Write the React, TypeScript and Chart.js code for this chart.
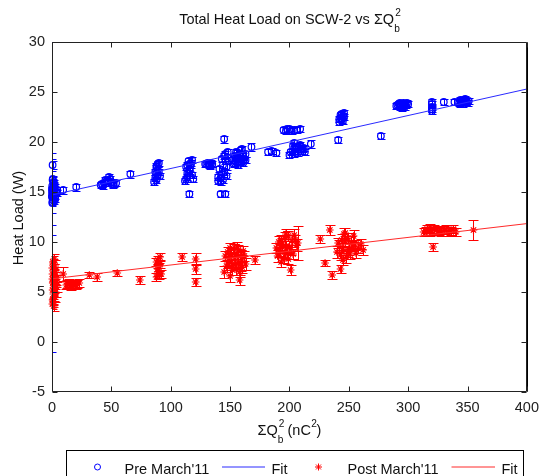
import { useEffect, useRef } from 'react';
import { Chart, registerables } from 'chart.js';

Chart.register(...registerables);

// ---------------- data ----------------
const preX = [
  0.3, 0.6, 1.0, 0.4, 1.5, 0.8, 2.0, 1.2, 0.5, 2.6, 3.2, 1.8, 2.3, 3.8, 4.5, 1.4, 0.2, 2.8, 0.5,
  0.4, 1.1, 0.9, 0.3, 1.7, 0.7, 2.1, 1.3, 0, 0, 0, 0,
  9.4, 20.4, 41, 44, 46, 48, 50, 52, 54, 43, 42, 45, 47, 49, 51, 66,
  86, 87, 88, 89, 88, 90, 91, 87, 88, 89, 90, 88, 89,
  112, 114, 115, 116, 117, 115, 118, 113, 119, 113, 114, 116, 117, 118, 114, 115.7,
  130, 132, 134, 133, 129, 131, 133, 135,
  140, 142, 143, 141, 144, 146, 145, 148, 147, 140, 142, 144, 145, 147, 143, 146, 148, 145, 142, 146,
  153, 155, 157, 158, 160, 156, 162, 159, 154, 161, 163, 152, 154, 156, 157, 159, 161, 163, 158, 155, 160, 168,
  182, 185, 189, 195, 198, 202, 206, 209, 197, 200, 204,
  200, 203, 205, 207, 209, 211, 213, 204, 201, 204, 206, 208, 210, 212, 203, 218,
  241, 242, 243, 244, 246, 245, 242, 243, 245, 244, 246, 277,
  290, 292, 294, 296, 298, 300, 293, 291, 293, 295, 297, 299, 295, 297,
  320, 320, 320, 320, 320, 330, 339,
  343, 345, 347, 349, 351, 342, 344, 346, 348, 350, 346, 344,
];
const preY = [
  13.9, 14.2, 14.5, 14.8, 15.1, 15.4, 15.7, 16.0, 16.2, 14.6, 15.0, 14.1, 15.5, 14.9, 15.2, 14.7, 15.6, 14.3, 17.7,
  14.0, 14.4, 15.0, 15.3, 15.9, 16.3, 14.9, 15.6, 15.0, 15.3, 14.5, 14.6,
  15.2, 15.5, 15.7, 15.9, 16.1, 16.5, 16.0, 15.8, 15.9, 15.6, 15.8, 16.2, 15.9, 16.3, 15.7, 16.8,
  16.0, 16.4, 16.8, 17.2, 17.6, 17.9, 16.6, 17.0, 16.2, 16.6, 17.0, 17.4, 17.8,
  16.1, 16.5, 16.9, 17.3, 17.7, 18.1, 16.7, 17.5, 16.3, 16.3, 16.9, 17.1, 17.9, 18.2, 17.7, 14.8,
  17.8, 17.7, 17.9, 17.6, 17.8, 17.9, 17.7, 17.8,
  16.1, 16.4, 16.8, 17.3, 17.7, 18.1, 18.6, 19.0, 16.6, 16.5, 16.0, 16.2, 17.0, 17.5, 18.3, 18.8, 18.4, 20.3, 14.8, 14.8,
  17.8, 18.1, 18.4, 18.0, 18.7, 18.9, 18.3, 19.2, 18.6, 17.9, 18.8, 18.2, 17.9, 18.5, 17.7, 18.1, 18.6, 18.2, 18.8, 19.0, 19.3, 19.5,
  19.0, 19.1, 18.9, 21.2, 21.3, 21.1, 21.2, 21.3, 21.1, 21.3, 21.2,
  18.7, 19.1, 19.5, 18.9, 19.7, 19.3, 19.0, 19.9, 19.0, 18.8, 19.3, 19.6, 19.1, 19.4, 19.6, 19.8,
  20.2, 22.0, 22.4, 22.8, 22.5, 22.1, 22.3, 22.7, 22.6, 22.2, 22.9, 20.6,
  23.6, 23.8, 23.7, 23.9, 23.7, 23.8, 23.5, 23.7, 23.9, 23.6, 23.8, 23.9, 23.4, 23.5,
  23.1, 23.5, 24.0, 23.8, 23.3, 24.0, 24.0,
  23.9, 24.1, 24.2, 24.0, 24.1, 24.0, 24.2, 24.0, 24.3, 23.9, 23.8, 23.8,
];
const preErr = [
  0.3, 0.3, 0.3, 0.3, 0.3, 0.3, 0.3, 0.3, 0.3, 0.3, 0.3, 0.3, 0.3, 0.3, 0.3, 0.3, 0.3, 0.3, 0.4,
  0.3, 0.3, 0.3, 0.3, 0.3, 0.3, 0.3, 0.3, 2.1, 3.6, 3.8, 15.6,
  0.35, 0.35, 0.3, 0.3, 0.3, 0.3, 0.3, 0.3, 0.3, 0.3, 0.3, 0.3, 0.3, 0.3, 0.3, 0.35,
  0.3, 0.3, 0.3, 0.3, 0.3, 0.3, 0.3, 0.3, 0.3, 0.3, 0.3, 0.3, 0.3,
  0.3, 0.3, 0.3, 0.3, 0.3, 0.3, 0.3, 0.3, 0.3, 0.3, 0.3, 0.3, 0.3, 0.3, 0.3, 0.35,
  0.3, 0.3, 0.3, 0.3, 0.3, 0.3, 0.3, 0.3,
  0.3, 0.3, 0.3, 0.3, 0.3, 0.3, 0.3, 0.3, 0.3, 0.3, 0.3, 0.3, 0.3, 0.3, 0.3, 0.3, 0.3, 0.35, 0.35, 0.35,
  0.3, 0.3, 0.3, 0.3, 0.3, 0.3, 0.3, 0.3, 0.3, 0.3, 0.3, 0.3, 0.3, 0.3, 0.3, 0.3, 0.3, 0.3, 0.3, 0.3, 0.3, 0.35,
  0.3, 0.3, 0.3, 0.3, 0.3, 0.3, 0.3, 0.3, 0.3, 0.3, 0.3,
  0.3, 0.3, 0.3, 0.3, 0.3, 0.3, 0.3, 0.3, 0.3, 0.3, 0.3, 0.3, 0.3, 0.3, 0.3, 0.35,
  0.3, 0.3, 0.3, 0.3, 0.3, 0.3, 0.3, 0.3, 0.3, 0.3, 0.3, 0.3,
  0.3, 0.3, 0.3, 0.3, 0.3, 0.3, 0.3, 0.3, 0.3, 0.3, 0.3, 0.3, 0.3, 0.3,
  0.3, 0.3, 0.3, 0.3, 0.3, 0.3, 0.3,
  0.3, 0.3, 0.3, 0.3, 0.3, 0.3, 0.3, 0.3, 0.3, 0.3, 0.3, 0.3,
];

const postX = [
  0.3, 0.8, 1.2, 0.5, 1.8, 0.9, 2.2, 0.4, 1.5, 2.6, 0.7, 1.9, 3.0, 3.4, 2.9, 1.1, 0.2, 3.8, 2.4, 1.6,
  0.5, 1.3, 0.6, 2.0, 1.0, 0.3, 2.7, 1.4,
  9.4, 12, 14, 16, 18, 20, 23, 13, 17, 21, 31.5, 38, 55, 74,
  88, 89, 90, 88, 91, 92, 89, 89, 90, 91, 109.6, 121, 121, 121,
  145, 147, 149, 151, 153, 155, 157, 159, 161, 163, 150, 156, 158, 148, 154, 160,
  146, 148, 150, 152, 154, 156, 158, 160, 162, 151, 157, 159, 171,
  190, 192, 194, 196, 198, 200, 202, 204, 196, 206, 191, 201, 207, 199,
  189, 191, 193, 195, 197, 199, 201, 203, 205, 193, 197,
  226, 234, 230, 236, 243,
  240, 242, 244, 246, 248, 250, 252, 254, 245, 249, 256, 258, 260, 262,
  241, 243, 245, 247, 249, 251, 253, 247, 255,
  313, 316, 320, 324, 328, 332, 336, 340, 315, 318, 322, 326, 330, 334, 338, 318, 321, 355,
];
const postY = [
  3.8, 4.3, 4.8, 5.2, 5.6, 6.0, 6.4, 6.8, 7.2, 7.6, 8.0, 8.3, 5.0, 6.2, 7.0, 4.0, 7.4, 5.5, 4.5, 6.6,
  4.2, 5.4, 5.9, 6.8, 7.8, 6.3, 5.8, 3.6,
  6.8, 5.7, 5.9, 5.6, 5.8, 5.7, 5.9, 5.8, 5.7, 5.8, 6.7, 6.5, 6.9, 6.2,
  6.5, 7.0, 7.5, 8.0, 8.5, 6.8, 7.3, 8.2, 6.7, 7.8, 8.5, 8.3, 7.3, 6.0,
  7.0, 7.6, 8.2, 8.8, 9.3, 7.3, 8.0, 8.6, 9.1, 7.8, 6.6, 9.5, 6.2, 8.0, 8.4, 7.5,
  8.6, 9.0, 9.4, 7.2, 7.8, 8.8, 7.0, 8.2, 8.6, 8.0, 9.2, 7.6, 8.2,
  8.6, 9.2, 9.8, 10.4, 8.9, 9.5, 10.1, 10.7, 9.0, 9.7, 10.0, 7.2, 9.9, 8.3,
  9.4, 9.0, 10.2, 8.4, 9.6, 10.6, 9.2, 8.8, 10.2, 8.0, 10.8,
  10.3, 11.2, 7.9, 6.7, 7.3,
  9.0, 9.6, 10.2, 10.8, 8.5, 9.3, 10.0, 10.6, 8.2, 10.4, 8.9, 9.4, 9.8, 9.2,
  9.9, 8.7, 9.4, 10.1, 9.0, 8.8, 9.6, 10.9, 9.7,
  11.0, 11.3, 11.1, 11.2, 11.0, 11.3, 11.1, 11.0, 11.1, 11.0, 11.3, 11.1, 11.2, 11.0, 11.3, 11.4, 9.5, 11.2,
];
const postErr = [
  0.5, 0.5, 0.5, 0.6, 0.6, 0.6, 0.6, 0.6, 0.6, 0.6, 0.6, 0.5, 0.5, 0.5, 0.5, 0.5, 0.6, 0.5, 0.5, 0.6,
  0.5, 0.5, 0.5, 0.5, 0.5, 0.5, 0.5, 0.5,
  0.7, 0.4, 0.4, 0.4, 0.4, 0.4, 0.4, 0.4, 0.4, 0.4, 0.3, 0.4, 0.3, 0.4,
  0.4, 0.4, 0.4, 0.4, 0.4, 0.4, 0.4, 0.4, 0.4, 0.4, 0.4, 0.6, 0.5, 0.4,
  0.6, 0.6, 0.6, 0.6, 0.5, 0.6, 0.6, 0.6, 0.5, 0.6, 0.6, 0.5, 0.5, 0.6, 0.6, 0.6,
  0.5, 0.5, 0.5, 0.5, 0.5, 0.5, 0.5, 0.5, 0.5, 0.5, 0.5, 0.5, 0.4,
  0.6, 0.6, 0.6, 0.6, 0.6, 0.6, 0.6, 0.6, 0.6, 0.6, 0.6, 0.5, 1.7, 0.5,
  0.5, 0.5, 0.5, 0.5, 0.5, 0.5, 0.5, 0.5, 0.5, 0.5, 0.5,
  0.4, 0.5, 0.3, 0.4, 0.4,
  0.6, 0.6, 0.6, 0.6, 0.6, 0.6, 0.6, 0.6, 0.5, 0.5, 0.5, 0.5, 0.5, 0.5,
  0.5, 0.5, 0.5, 0.5, 0.5, 0.5, 0.5, 0.5, 0.5,
  0.4, 0.4, 0.4, 0.4, 0.4, 0.4, 0.4, 0.4, 0.4, 0.4, 0.4, 0.4, 0.4, 0.4, 0.4, 0.4, 0.4, 1.0,
];

const preFitIntercept = 14.7;
const preFitSlope = 0.0265;
const postFitIntercept = 6.32;
const postFitSlope = 0.0138;

const xRange = [0, 400];
const yRange = [-5, 30];
const xStep = 50;
const yStep = 5;

const legendLabels = ["Pre March'11", 'Fit', "Post March'11", 'Fit'];

// ---------------- styles ----------------
const FONT = "'Liberation Sans', Arial, Helvetica, sans-serif";
const BLUE = '#0000ff';
const RED = '#ff0000';
const FIT_BLUE = '#2a2aff';
const FIT_RED = '#ff2a2a';

function drawMath(ctx: CanvasRenderingContext2D, parts: { t: string; k: 'n' | 'sub' | 'sup' | 'subsup'; t2?: string }[], cx: number, baseline: number, size: number) {
  const small = size * 0.7;
  const measure = (p: any) => {
    if (p.k === 'n') { ctx.font = `${size}px ${FONT}`; return ctx.measureText(p.t).width; }
    ctx.font = `${small}px ${FONT}`;
    const w1 = ctx.measureText(p.t).width;
    const w2 = p.t2 ? ctx.measureText(p.t2).width : 0;
    return Math.max(w1, w2);
  };
  const widths = parts.map(measure);
  const total = widths.reduce((a, b) => a + b, 0);
  let x = cx - total / 2;
  ctx.textAlign = 'left';
  ctx.textBaseline = 'alphabetic';
  parts.forEach((p, i) => {
    if (p.k === 'n') {
      ctx.font = `${size}px ${FONT}`;
      ctx.fillText(p.t, x, baseline);
    } else {
      ctx.font = `${small}px ${FONT}`;
      if (p.k === 'sub') ctx.fillText(p.t, x, baseline + 8);
      if (p.k === 'sup') ctx.fillText(p.t, x + 0.5, baseline - 8.5);
      if (p.k === 'subsup') {
        ctx.fillText(p.t, x, baseline + 8);
        ctx.fillText(p.t2 || '', x + 1, baseline - 8.5);
      }
    }
    x += widths[i];
  });
}

const errorBarPlugin = {
  id: 'errorBars',
  beforeDatasetDraw(chart: any, args: any) {
    const ds = chart.data.datasets[args.index];
    if (!ds.errors) return;
    const { ctx, chartArea } = chart;
    const xs = chart.scales.x;
    const ys = chart.scales.y;
    const cap = ds.capHalf || 4;
    ctx.save();
    ctx.beginPath();
    ctx.rect(chartArea.left, chartArea.top, chartArea.right - chartArea.left, chartArea.bottom - chartArea.top);
    ctx.clip();
    ctx.strokeStyle = ds.borderColor;
    ctx.lineWidth = 1;
    ds.data.forEach((p: any, i: number) => {
      const e = ds.errors[i];
      const px = Math.round(xs.getPixelForValue(p.x)) + 0.5;
      const top = Math.round(ys.getPixelForValue(p.y + e)) + 0.5;
      const bot = Math.round(ys.getPixelForValue(p.y - e)) + 0.5;
      ctx.beginPath();
      ctx.moveTo(px, top);
      ctx.lineTo(px, bot);
      ctx.moveTo(px - cap, top);
      ctx.lineTo(px + cap, top);
      ctx.moveTo(px - cap, bot);
      ctx.lineTo(px + cap, bot);
      ctx.stroke();
    });
    ctx.restore();
  },
};

const decorPlugin = {
  id: 'decor',
  afterDraw(chart: any) {
    const { ctx, chartArea } = chart;
    const xs = chart.scales.x;
    const ys = chart.scales.y;
    const L = chartArea.left, R = chartArea.right, T = chartArea.top, B = chartArea.bottom;
    ctx.save();
    // axes box
    ctx.strokeStyle = '#222';
    ctx.lineWidth = 1;
    const l = Math.round(L) + 0.5, r = Math.round(R) - 0.5, t = Math.round(T) + 0.5, b = Math.round(B) - 0.5;
    ctx.beginPath();
    ctx.moveTo(l, t); ctx.lineTo(r, t); ctx.lineTo(r, b); ctx.lineTo(l, b); ctx.closePath();
    ctx.stroke();
    ctx.strokeStyle = '#000';
    ctx.beginPath();
    ctx.moveTo(r + 1, t); ctx.lineTo(r + 1, b);
    ctx.stroke();
    // ticks (inward)
    const tl = 5;
    ctx.strokeStyle = '#222';
    ctx.beginPath();
    xs.ticks.forEach((tk: any) => {
      const px = Math.round(xs.getPixelForValue(tk.value)) + 0.5;
      ctx.moveTo(px, b); ctx.lineTo(px, b - tl);
      ctx.moveTo(px, t); ctx.lineTo(px, t + tl);
    });
    ys.ticks.forEach((tk: any) => {
      const py = Math.round(ys.getPixelForValue(tk.value)) + 0.5;
      ctx.moveTo(l, py); ctx.lineTo(l + tl, py);
      ctx.moveTo(r, py); ctx.lineTo(r - tl, py);
    });
    ctx.stroke();

    // title
    ctx.fillStyle = '#111';
    const cx = (L + R) / 2;
    drawMath(ctx, [
      { t: 'Total Heat Load on SCW-2 vs \u03A3Q', k: 'n' },
      { t: 'b', k: 'subsup', t2: '2' },
    ], cx, 24, 14.5);
    // x label
    drawMath(ctx, [
      { t: '\u03A3Q', k: 'n' },
      { t: 'b', k: 'subsup', t2: '2' },
      { t: ' (nC', k: 'n' },
      { t: '2', k: 'sup' },
      { t: ')', k: 'n' },
    ], cx, 435, 14.5);
    // y label
    ctx.save();
    ctx.translate(23, (T + B) / 2 + 1);
    ctx.rotate(-Math.PI / 2);
    ctx.font = `14.5px ${FONT}`;
    ctx.textAlign = 'center';
    ctx.textBaseline = 'alphabetic';
    ctx.fillText('Heat Load (W)', 0, 0);
    ctx.restore();

    // legend
    const ly = 467;
    ctx.strokeStyle = '#000';
    ctx.lineWidth = 1;
    ctx.strokeRect(66.5, 450.5, 457, 40);
    ctx.font = `14.5px ${FONT}`;
    ctx.textAlign = 'left';
    ctx.textBaseline = 'alphabetic';
    ctx.fillStyle = '#111';
    // pre marker
    ctx.strokeStyle = BLUE;
    ctx.beginPath();
    ctx.arc(97.5, ly, 3, 0, Math.PI * 2);
    ctx.stroke();
    ctx.fillText(legendLabels[0], 124.5, 473.5);
    ctx.strokeStyle = FIT_BLUE;
    ctx.beginPath();
    ctx.moveTo(222, ly); ctx.lineTo(265, ly);
    ctx.stroke();
    ctx.fillText(legendLabels[1], 271.5, 473.5);
    // post marker (asterisk)
    ctx.strokeStyle = RED;
    ctx.beginPath();
    const sx = 318.5, sr = 3.5;
    ctx.moveTo(sx - sr, ly); ctx.lineTo(sx + sr, ly);
    ctx.moveTo(sx, ly - sr); ctx.lineTo(sx, ly + sr);
    const d = sr * 0.707;
    ctx.moveTo(sx - d, ly - d); ctx.lineTo(sx + d, ly + d);
    ctx.moveTo(sx - d, ly + d); ctx.lineTo(sx + d, ly - d);
    ctx.stroke();
    ctx.fillText(legendLabels[2], 347.5, 473.5);
    ctx.strokeStyle = FIT_RED;
    ctx.beginPath();
    ctx.moveTo(451.5, ly); ctx.lineTo(495, ly);
    ctx.stroke();
    ctx.fillText(legendLabels[3], 501.5, 473.5);
    ctx.restore();
  },
};

export default function App() {
  const ref = useRef<HTMLCanvasElement | null>(null);
  useEffect(() => {
    if (!ref.current) return;
    const preData = preX.map((x, i) => ({ x, y: preY[i] }));
    const postData = postX.map((x, i) => ({ x, y: postY[i] }));
    const preFit = xRange.map((x) => ({ x, y: preFitIntercept + preFitSlope * x }));
    const postFit = xRange.map((x) => ({ x, y: postFitIntercept + postFitSlope * x }));
    const chart = new Chart(ref.current, {
      type: 'scatter',
      data: {
        datasets: [
          {
            label: legendLabels[0],
            data: preData,
            errors: preErr,
            capHalf: 4,
            pointStyle: 'circle',
            pointRadius: 3.3,
            borderColor: BLUE,
            backgroundColor: 'rgba(0,0,0,0)',
            borderWidth: 1.2,
            clip: false,
            order: 4,
          } as any,
          {
            type: 'line',
            label: legendLabels[1],
            data: preFit,
            borderColor: FIT_BLUE,
            borderWidth: 1,
            pointRadius: 0,
            showLine: true,
            fill: false,
            order: 3,
          } as any,
          {
            label: legendLabels[2],
            data: postData,
            errors: postErr,
            capHalf: 5,
            pointStyle: 'star',
            pointRadius: 3.8,
            borderColor: RED,
            backgroundColor: RED,
            borderWidth: 1.2,
            clip: false,
            order: 2,
          } as any,
          {
            type: 'line',
            label: legendLabels[3],
            data: postFit,
            borderColor: FIT_RED,
            borderWidth: 1,
            pointRadius: 0,
            showLine: true,
            fill: false,
            order: 1,
          } as any,
        ],
      },
      options: {
        animation: false,
        responsive: true,
        maintainAspectRatio: false,
        layout: { padding: { top: 42, right: 11, left: 0, bottom: 0 } },
        plugins: {
          legend: { display: false },
          title: { display: false },
          tooltip: { enabled: false },
        },
        scales: {
          x: {
            type: 'linear',
            min: xRange[0],
            max: xRange[1],
            grid: { display: false, drawTicks: false },
            border: { display: false },
            ticks: { stepSize: xStep, padding: 7, color: '#222', maxRotation: 0, font: { family: FONT, size: 14.5 } },
            afterFit: (s: any) => { s.height = 84; },
          },
          y: {
            type: 'linear',
            min: yRange[0],
            max: yRange[1],
            grid: { display: false, drawTicks: false },
            border: { display: false },
            ticks: { stepSize: yStep, padding: 7, color: '#222', font: { family: FONT, size: 14.5 } },
            afterFit: (s: any) => { s.width = 52; },
          },
        },
      } as any,
      plugins: [errorBarPlugin, decorPlugin],
    });
    return () => chart.destroy();
  }, []);
  return (
    <div style={{ position: 'fixed', left: 0, top: 0, width: 546, height: 476, background: '#fff' }}>
      <canvas ref={ref} />
    </div>
  );
}
